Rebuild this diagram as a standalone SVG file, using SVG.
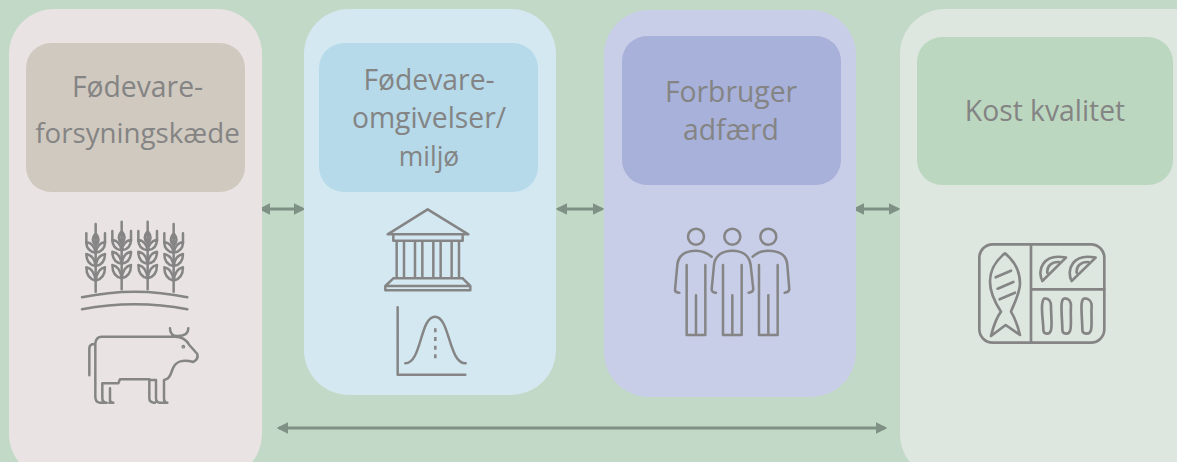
<svg xmlns="http://www.w3.org/2000/svg" width="1177" height="462" viewBox="0 0 1177 462">
<style>
.t{font-family:"Open Sans","Noto Sans",sans-serif;font-size:28.3px;fill:#848484;text-anchor:middle}
.i{fill:none;stroke:#858585;stroke-width:7.500;stroke-linecap:round;stroke-linejoin:round}
.a{fill:none;stroke:#7f9084;stroke-width:3;marker-start:url(#h);marker-end:url(#h)}
</style>
<defs>
<marker id="h" viewBox="0 0 10 10" refX="8" refY="5" markerWidth="3.8" markerHeight="3.8" orient="auto-start-reverse"><path d="M0 0L10 5L0 10Z" fill="#7f9084"/></marker>
<g id="wheat">
<path d="M0 42V245M0 70Q-17 90 0 108Q17 90 0 70M-28 70V100M28 70V100"/>
<path d="M0 128Q-28 124 -28 96Q-5 100 0 128M0 128Q28 124 28 96Q5 100 0 128"/>
<path d="M0 168Q-28 164 -28 132Q-5 136 0 168M0 168Q28 164 28 132Q5 136 0 168"/>
<path d="M0 212Q-28 206 -28 172Q-5 176 0 212M0 212Q28 206 28 172Q5 176 0 212"/>
</g>
</defs>
<rect width="1177" height="462" fill="#c3d9c7"/>
<g id="connectors">
<path class="a" d="M261 209H303"/>
<path class="a" d="M558 209H602"/>
<path class="a" d="M855 209H898"/>
<path class="a" d="M279 428H885"/>
</g>
<g id="node-supply">
<rect x="9" y="9" width="253" height="470" rx="45" fill="#e9e3e3"/>
<rect x="26" y="43" width="219" height="149" rx="25" fill="#d0c9bf"/>
<text class="t" x="137.500" y="97">Fødevare-</text>
<text class="t" x="137.500" y="143" style="font-size:27.700px">forsyningskæde</text>
<g class="i" transform="translate(60 210) scale(.3333)">
<use href="#wheat" x="107"/><use href="#wheat" x="185" y="-7"/><use href="#wheat" x="263" y="-7"/><use href="#wheat" x="341"/>
<path d="M66 262Q225 228 382 262M66 298Q225 268 382 298"/>
<path d="M88 496V415Q88 402 104 402M106 560V400Q108 380 125 380H345M330 355Q330 380 355 378Q385 378 385 355M345 380Q375 380 388 405L412 432Q416 448 400 456C370 448 345 450 335 485Q328 508 312 510V565Q312 578 322 578H300Q288 578 288 565V510H268V565Q268 578 285 578H280M268 508H180L175 520H127V565Q127 578 140 578H118Q106 575 106 560M150 535V570Q150 578 160 578H148"/>
<circle cx="370" cy="410" r="2" fill="#858585"/>
</g>
</g>
<g id="node-environment">
<rect x="304" y="9" width="252" height="386" rx="45" fill="#d4e8f2"/>
<rect x="319" y="43" width="219" height="149" rx="25" fill="#b6daea"/>
<text class="t" x="429" y="90">Fødevare-</text>
<text class="t" x="429" y="128">omgivelser/</text>
<text class="t" x="429" y="166" style="font-size:26.500px">miljø</text>
<g class="i" transform="translate(370 200) scale(.3333)">
<path d="M53 103L173 28L295 103ZM70 103V122H278V103M80 122V235M102 122V235M135 122V235M157 122V235M190 122V235M212 122V235M245 122V235M267 122V235M70 235H278M70 235L46 258V271H301V258L278 235M46 258H301"/>
<path d="M83 322V524H286M106 490C155 490 150 350 195 350C240 350 235 490 287 490"/>
<path d="M196 385V480" stroke-dasharray="12 14" stroke-linecap="butt"/>
</g>
</g>
<g id="node-behaviour">
<rect x="604" y="10" width="252" height="387" rx="45" fill="#c8cde8"/>
<rect x="622" y="36" width="219" height="149" rx="25" fill="#a8b1d9"/>
<text class="t" x="731" y="102">Forbruger</text>
<text class="t" x="731" y="140">adfærd</text>
<g class="i" transform="translate(660 220) scale(.3333)">
<circle cx="108" cy="50" r="24"/><circle cx="217" cy="50" r="24"/><circle cx="325" cy="50" r="24"/>
<path d="M155 110C140 98 125 92 108 92C75 92 55 105 52 135L45 210Q46 218 58 218M80 135V345H136V135M108 345V226"/>
<path d="M162 135C165 105 190 92 217 92C245 92 268 105 272 135L280 208Q278 218 266 218M162 135L155 208Q156 218 168 218M189 135V345H245V135M217 345V226"/>
<path d="M278 110C292 98 308 92 325 92C358 92 380 105 382 135L388 208Q386 218 374 218M297 135V345H353V135M325 345V226"/>
</g>
</g>
<g id="node-diet">
<rect x="900" y="9" width="320" height="470" rx="45" fill="#dde7df"/>
<rect x="917" y="37" width="256" height="148" rx="25" fill="#bcd7bf"/>
<text class="t" x="1045" y="121">Kost kvalitet</text>
<g class="i" transform="translate(965 230) scale(.3333)" style="stroke-width:8">
<rect x="43" y="43" width="375" height="295" rx="40"/>
<path d="M198 43V338M198 178H418"/>
<path d="M120 70C150 95 165 125 165 160C165 190 145 225 138 245C150 265 160 295 165 315L122 285L78 318C85 290 95 262 108 245C95 225 75 190 75 155C75 120 95 90 120 70Z"/>
<path d="M92 142L138 122M98 176L145 156M104 208L150 188"/>
<path d="M232 153C215 120 235 68 303 83ZM247 128C245 108 260 95 282 96"/>
<path d="M320 153C303 120 323 68 392 83ZM335 128C333 108 348 95 370 96"/>
<path d="M240 205C252 205 258 215 258 228C258 255 262 285 258 300C255 315 235 315 235 298C235 275 228 240 232 220Q234 205 240 205Z"/>
<path d="M300 205C312 205 318 215 318 228C316 255 320 285 316 300C313 315 292 315 292 298C292 275 288 240 290 220Q292 205 300 205Z"/>
<path d="M360 205C372 205 380 215 380 228C378 255 382 285 378 300C375 315 352 315 352 298C352 275 348 240 350 220Q352 205 360 205Z"/>
</g>
</g>
</svg>
